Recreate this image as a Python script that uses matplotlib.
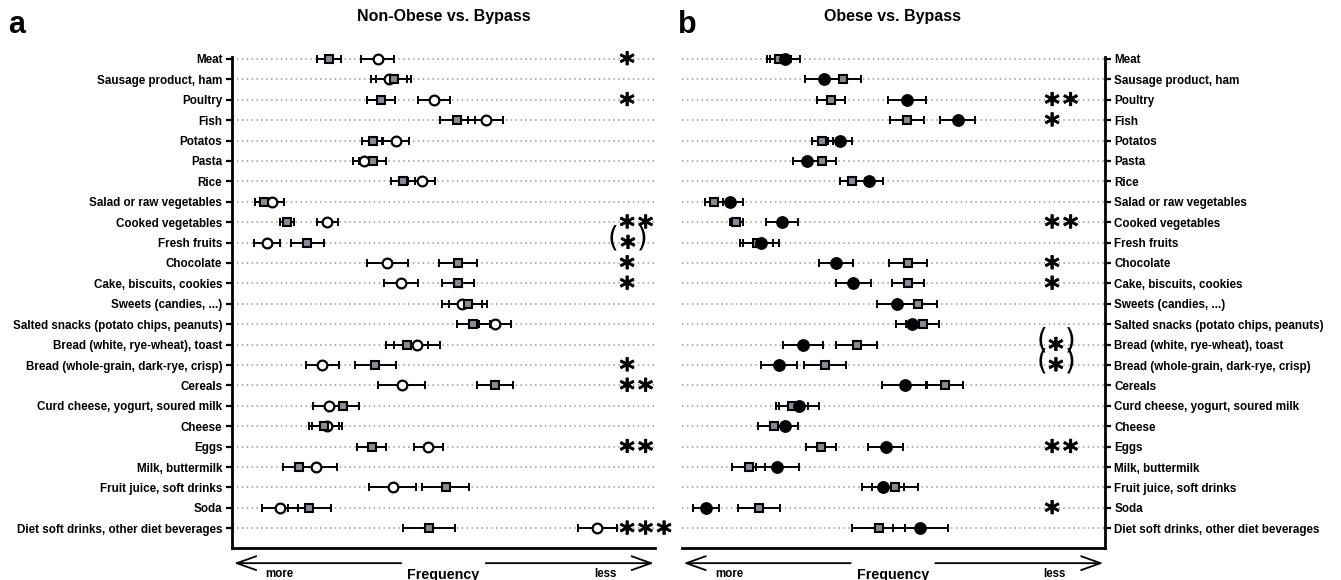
import matplotlib
matplotlib.use("Agg")
import matplotlib.pyplot as plt
import matplotlib.transforms as mtransforms
import matplotlib.patheffects as pe

# Food items (rows, top to bottom)
categories = ["Meat", "Sausage product, ham", "Poultry", "Fish", "Potatos", "Pasta", "Rice",
              "Salad or raw vegetables", "Cooked vegetables", "Fresh fruits", "Chocolate",
              "Cake, biscuits, cookies", "Sweets (candies, ...)",
              "Salted snacks (potato chips, peanuts)", "Bread (white, rye-wheat), toast",
              "Bread (whole-grain, dark-rye, crisp)", "Cereals",
              "Curd cheese, yogurt, soured milk", "Cheese", "Eggs", "Milk, buttermilk",
              "Fruit juice, soft drinks", "Soda", "Diet soft drinks, other diet beverages"]

# frequency score (0 = more often, 100 = less often), mean and error
bypass_mean = [23.0, 38.2, 35.3, 53.3, 33.3, 33.3, 40.4, 7.6, 13.0, 17.8, 53.5, 53.5,
               55.8, 57.0, 41.4, 33.9, 62.2, 26.2, 21.8, 33.0, 15.9, 50.5, 18.3, 46.6]
bypass_err = [2.8, 4.2, 3.3, 4.1, 2.5, 3.2, 2.9, 2.1, 1.6, 3.9, 4.5, 3.8,
              4.6, 3.9, 4.9, 4.9, 4.3, 3.8, 3.6, 3.5, 3.9, 5.5, 5.0, 6.2]
nonobese_mean = [34.4, 37.1, 47.8, 60.0, 38.7, 31.2, 44.8, 9.4, 22.5, 8.2, 36.7, 39.9,
                 54.4, 62.2, 43.7, 21.3, 40.1, 23.0, 22.4, 46.4, 19.9, 38.0, 11.3, 86.4]
nonobese_err = [3.8, 4.3, 3.8, 4.1, 3.2, 2.5, 3.1, 2.8, 2.5, 3.1, 4.8, 4.0,
                4.7, 3.8, 5.4, 3.9, 5.6, 3.9, 3.5, 3.4, 5.0, 5.5, 4.2, 4.5]
obese_mean = [24.5, 33.8, 53.2, 65.3, 37.5, 29.6, 44.4, 11.5, 23.7, 18.8, 36.5, 40.6,
              51.0, 54.4, 28.7, 23.0, 52.8, 27.8, 24.5, 48.3, 22.6, 47.7, 5.8, 56.5]
obese_err = [3.5, 4.7, 4.5, 4.2, 2.9, 3.3, 3.3, 3.1, 3.8, 4.3, 4.1, 4.1,
             4.9, 3.7, 4.7, 4.2, 5.3, 4.7, 3.0, 4.1, 5.1, 5.0, 3.1, 6.4]

sig_nonobese = ["*", "", "*", "", "", "", "", "", "**", "(*)", "*", "*",
                "", "", "", "*", "**", "", "", "**", "", "", "", "***"]
sig_obese = ["", "", "**", "*", "", "", "", "", "**", "", "*", "*",
             "", "", "(*)", "(*)", "", "", "", "**", "", "", "*", ""]

LABEL_FONT = "Liberation Sans"
SQ_COLOR = "#8a8a98"
STAR_FX = [pe.withStroke(linewidth=0.5, foreground="black")]
STAR_PITCH = 13.3  # points between neighbouring stars

fig = plt.figure(figsize=(13.41, 5.80), dpi=100)
W, H = 1341, 580
ax_a = fig.add_axes([232 / W, (H - 548.3) / H, 423 / W, 495.3 / H])
ax_b = fig.add_axes([681.5 / W, (H - 548.3) / H, 423 / W, 495.3 / H])

rows = list(range(len(categories)))


def draw_panel(ax, other_mean, other_err, filled, sig, star_x, paren_x, side):
    ax.set_xlim(0, 100)
    ax.set_ylim(23.98, -0.29)
    for r in rows:
        ax.axhline(r, color="#9a9a9a", lw=1.1, ls=(0, (1, 2.2)), zorder=0)

    ax.errorbar(bypass_mean, rows, xerr=bypass_err, fmt="none", ecolor="black",
                elinewidth=1.4, capsize=2.6, capthick=1.4, zorder=2, clip_on=False)
    ax.errorbar(other_mean, rows, xerr=other_err, fmt="none", ecolor="black",
                elinewidth=1.4, capsize=2.6, capthick=1.4, zorder=2, clip_on=False)
    if filled:
        ax.plot(bypass_mean, rows, "s", ms=6.2, mfc=SQ_COLOR, mec="black", mew=1.5,
                ls="none", zorder=3, clip_on=False)
        ax.plot(other_mean, rows, "o", ms=8.2, mfc="black", mec="black", mew=1.0,
                ls="none", zorder=4, clip_on=False)
    else:
        ax.plot(other_mean, rows, "o", ms=7.0, mfc="white", mec="black", mew=1.6,
                ls="none", zorder=3, clip_on=False)
        ax.plot(bypass_mean, rows, "s", ms=6.2, mfc=SQ_COLOR, mec="black", mew=1.5,
                ls="none", zorder=4, clip_on=False)

    # significance marks
    blend = mtransforms.blended_transform_factory(ax.transAxes, ax.transData)
    paren_tr = mtransforms.offset_copy(blend, fig=fig, y=-3.0, units="points")
    for r, s in zip(rows, sig):
        if not s:
            continue
        if s.startswith("("):
            tr = mtransforms.offset_copy(blend, fig=fig, y=-10.2, units="points")
            ax.text(paren_x[1], r, "*", transform=tr, ha="center", va="baseline",
                    fontsize=21, fontweight="bold", family="DejaVu Sans",
                    path_effects=STAR_FX)
            ax.text(paren_x[0], r, "(", transform=paren_tr, ha="center", va="baseline",
                    fontsize=20, family="DejaVu Sans")
            ax.text(paren_x[2], r, ")", transform=paren_tr, ha="center", va="baseline",
                    fontsize=20, family="DejaVu Sans")
        else:
            for i, ch in enumerate(s):
                tr = mtransforms.offset_copy(blend, fig=fig, x=i * STAR_PITCH, y=-10.2,
                                             units="points")
                ax.text(star_x, r, ch, transform=tr, ha="center", va="baseline",
                        fontsize=21, fontweight="bold", family="DejaVu Sans",
                        path_effects=STAR_FX)

    ax.set_yticks(rows)
    ax.set_yticklabels(categories, fontsize=8.4, fontweight="bold", family=LABEL_FONT)
    ax.set_xticks([])
    for sp in ax.spines.values():
        sp.set_linewidth(2.0)
    ax.spines["top"].set_visible(False)
    if side == "left":
        ax.spines["right"].set_visible(False)
        ax.spines["left"].set_bounds(23.98, -0.1)
        ax.yaxis.tick_left()
    else:
        ax.spines["left"].set_visible(False)
        ax.spines["right"].set_bounds(23.98, -0.1)
        ax.yaxis.tick_right()
    ax.tick_params(axis="y", direction="out", length=4, width=1.6, pad=3)

    # frequency arrows under the axis
    y_arrow = -0.03
    arrow = dict(arrowstyle="->,head_length=1.4,head_width=0.5", lw=1.3, color="black",
                 shrinkA=0, shrinkB=0)
    ax.annotate("", xy=(0.005, y_arrow), xytext=(0.40, y_arrow), xycoords="axes fraction",
                textcoords="axes fraction", arrowprops=arrow, annotation_clip=False)
    ax.annotate("", xy=(0.997, y_arrow), xytext=(0.60, y_arrow), xycoords="axes fraction",
                textcoords="axes fraction", arrowprops=arrow, annotation_clip=False)
    ax.text(0.113, -0.051, "more", transform=ax.transAxes, ha="center", va="center",
            fontsize=8.3, fontweight="bold", family=LABEL_FONT)
    ax.text(0.50, -0.053, "Frequency", transform=ax.transAxes, ha="center", va="center",
            fontsize=10.3, fontweight="bold", family=LABEL_FONT)
    ax.text(0.882, -0.051, "less", transform=ax.transAxes, ha="center", va="center",
            fontsize=8.3, fontweight="bold", family=LABEL_FONT)


draw_panel(ax_a, nonobese_mean, nonobese_err, False, sig_nonobese,
           0.934, (0.901, 0.936, 0.969), "left")
draw_panel(ax_b, obese_mean, obese_err, True, sig_obese,
           0.876, (0.852, 0.885, 0.918), "right")

fig.text((232 + 211.5) / W, 1 - 17 / H, "Non-Obese vs. Bypass", ha="center", va="center",
         fontsize=11.5, fontweight="bold", family=LABEL_FONT)
fig.text((681.5 + 211.5) / W, 1 - 17 / H, "Obese vs. Bypass", ha="center", va="center",
         fontsize=11.5, fontweight="bold", family=LABEL_FONT)
fig.text(8 / W, 1 - 33 / H, "a", ha="left", va="baseline", fontsize=22,
         fontweight="bold", family=LABEL_FONT)
fig.text(678 / W, 1 - 33 / H, "b", ha="left", va="baseline", fontsize=22,
         fontweight="bold", family=LABEL_FONT)

fig.savefig("out.png", dpi=100)
